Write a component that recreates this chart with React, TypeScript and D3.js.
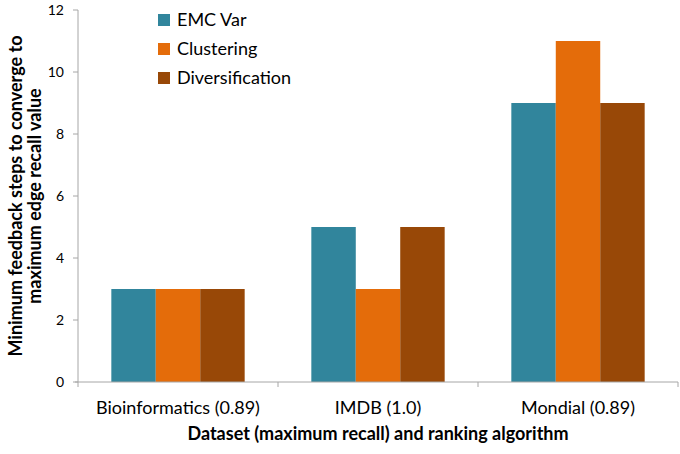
import React from 'react';
import * as d3 from 'd3';

const categories = ['Bioinformatics (0.89)', 'IMDB (1.0)', 'Mondial (0.89)'];
const seriesNames = ['EMC Var', 'Clustering', 'Diversification'];
const emcVar = [3, 5, 9];
const clustering = [3, 3, 11];
const diversification = [3, 5, 9];
const yTicks = [0, 2, 4, 6, 8, 10, 12];
const colors = ['#31859C', '#E46C0A', '#984807'];

const W = 680;
const H = 454;
const margin = { top: 10, right: 2, bottom: 72, left: 78 };
const font = 'Lato, "Noto Sans", sans-serif';

const App = () => {
  const series = [emcVar, clustering, diversification];
  const x = d3.scaleBand().domain(categories).range([margin.left, W - margin.right]).paddingInner(0).paddingOuter(0);
  // bars fill roughly two thirds of each category band
  const xInner = d3.scaleBand().domain(seriesNames).range([0, x.bandwidth()]).paddingOuter(0.75);
  const y = d3.scaleLinear().domain([0, 12]).range([H - margin.bottom, margin.top]);
  const axisColor = '#A6A6A6';
  const bottom = y(0);

  return (
    <svg width={W} height={H} style={{ position: 'absolute', left: 0, top: 0, background: '#fff' }}>
      {/* bars */}
      {categories.map((c, ci) => (
        <g key={c}>
          {seriesNames.map((s, si) => (
            <rect
              key={s}
              x={(x(c) ?? 0) + (xInner(s) ?? 0)}
              y={y(series[si][ci])}
              width={xInner.bandwidth()}
              height={bottom - y(series[si][ci])}
              fill={colors[si]}
            />
          ))}
        </g>
      ))}

      {/* y axis */}
      <line x1={margin.left} x2={margin.left} y1={y(12)} y2={bottom} stroke={axisColor} />
      {yTicks.map(t => (
        <g key={t}>
          <line x1={margin.left - 5} x2={margin.left} y1={y(t)} y2={y(t)} stroke={axisColor} />
          <text x={64} y={y(t)} dy="0.35em" textAnchor="end" fontSize={14} fontFamily={font} fill="#000">
            {t}
          </text>
        </g>
      ))}

      {/* x axis */}
      <line x1={margin.left - 3} x2={W - margin.right} y1={bottom} y2={bottom} stroke={axisColor} />
      {categories.map(c => (
        <line key={c + 't'} x1={(x(c) ?? 0) + x.bandwidth()} x2={(x(c) ?? 0) + x.bandwidth()} y1={bottom} y2={bottom + 5} stroke={axisColor} />
      ))}
      <line x1={margin.left} x2={margin.left} y1={bottom} y2={bottom + 5} stroke={axisColor} />
      {categories.map(c => (
        <text key={c} x={(x(c) ?? 0) + x.bandwidth() / 2} y={414} textAnchor="middle" fontSize={18} fontFamily={font} fill="#000">
          {c}
        </text>
      ))}

      {/* axis titles */}
      <text x={(margin.left + W - margin.right) / 2} y={440} textAnchor="middle" fontSize={18} fontWeight="bold" fontFamily={font} fill="#000">
        Dataset (maximum recall) and ranking algorithm
      </text>
      <g transform={`translate(0, ${(margin.top + bottom) / 2}) rotate(-90)`}>
        <text x={0} y={22} textAnchor="middle" fontSize={18} fontWeight="bold" fontFamily={font} fill="#000">
          Minimum feedback steps to converge to
        </text>
        <text x={0} y={41} textAnchor="middle" fontSize={18} fontWeight="bold" fontFamily={font} fill="#000">
          maximum edge recall value
        </text>
      </g>

      {/* legend */}
      {seriesNames.map((s, i) => (
        <g key={s} transform={`translate(158, ${14 + i * 29})`}>
          <rect width={12} height={12} fill={colors[i]} />
          <text x={19} y={6} dy="0.35em" fontSize={18} fontFamily={font} fill="#000">
            {s}
          </text>
        </g>
      ))}
    </svg>
  );
};

export default App;
